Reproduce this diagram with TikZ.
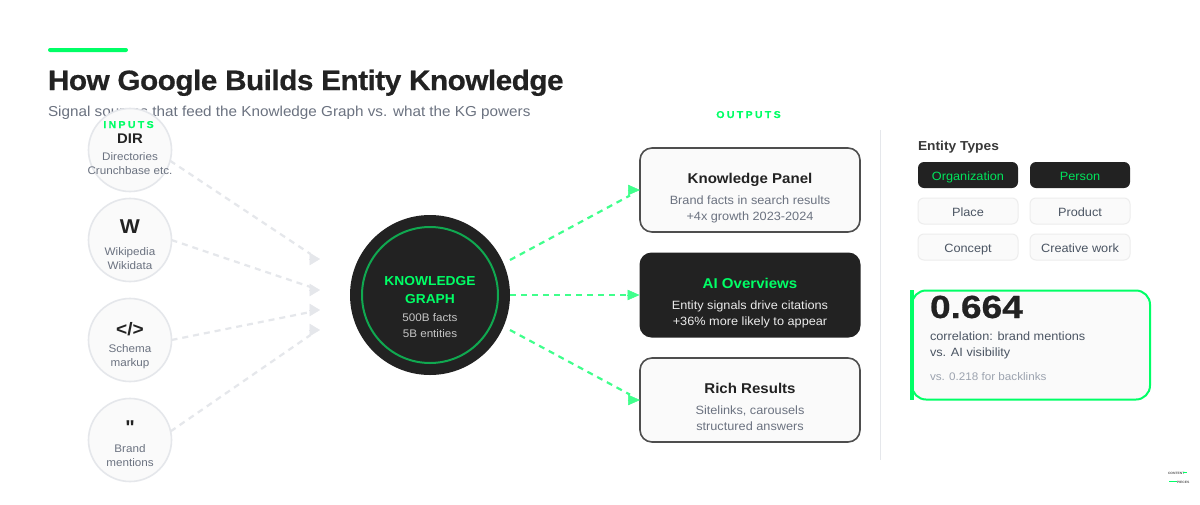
\documentclass[tikz,border=0pt]{standalone}
\usepackage{fontspec}
\setmainfont{Liberation Sans}[FakeStretch=1.06]
\newfontfamily\plainfam{Liberation Sans}
\newfontfamily\widefam{Liberation Sans}[FakeStretch=1.16]
\usetikzlibrary{arrows.meta}
\definecolor{ink}{HTML}{222222}
\definecolor{neon}{HTML}{00FF66}
\definecolor{neonsoft}{HTML}{40FF8C}
\definecolor{ringgreen}{HTML}{10A850}
\definecolor{hair}{HTML}{E5E7EB}
\definecolor{paper}{HTML}{FAFAFA}
\definecolor{muted}{HTML}{6B7280}
\definecolor{faint}{HTML}{9CA3AF}
\definecolor{slate}{HTML}{4B5563}
\newcommand{\sz}[1]{\fontsize{#1}{#1}\selectfont}
\tikzset{
  txt/.style={inner sep=0pt,outer sep=0pt,anchor=base},
  txtl/.style={inner sep=0pt,outer sep=0pt,anchor=base west},
  srccircle/.style={circle,draw=hair,line width=1.6pt,fill=paper,minimum size=83pt,inner sep=0pt,outer sep=0pt},
  outbox/.style={rectangle,rounded corners=12pt,draw=ink!80!white,line width=1.6pt,fill=paper,minimum width=220pt,minimum height=84pt,inner sep=0pt,outer sep=0pt},
  darkbox/.style={rectangle,rounded corners=12pt,fill=ink,minimum width=221pt,minimum height=85pt,inner sep=0pt,outer sep=0pt},
  pilld/.style={rectangle,rounded corners=6pt,fill=ink,minimum width=100pt,minimum height=26pt,inner sep=0pt,outer sep=0pt},
  pilll/.style={rectangle,rounded corners=6pt,draw=black!7,line width=1pt,fill=paper,minimum width=100pt,minimum height=26pt,inner sep=0pt,outer sep=0pt},
  inflow/.style={draw=hair,line width=2.2pt,dash pattern=on 6pt off 5pt},
  intip/.style={draw=hair,line width=0.5pt,-{Triangle[length=10.5pt,width=12.5pt,fill=hair]}},
  outflow/.style={draw=neonsoft,line width=2.2pt,dash pattern=on 6pt off 5pt},
  outtip/.style={draw=neonsoft,line width=0.5pt,-{Triangle[length=12pt,width=10.5pt,fill=neonsoft]}},
  head/.style={txt,font=\bfseries\sz{14},text=ink},
  small/.style={txt,font=\sz{11},text=muted},
  boxsub/.style={txt,font=\sz{12},text=muted},
  pilltxt/.style={txt,font=\sz{12},text=slate},
  pilltxtg/.style={txt,font=\sz{12},text=neon!90!black},
}
\begin{document}
\begin{tikzpicture}[x=1pt,y=-1pt]
\path[use as bounding box,fill=white] (0,0) rectangle (1200,504);
% header
\node[rectangle,fill=neon,rounded corners=2pt,minimum width=80pt,minimum height=4pt,inner sep=0pt,outer sep=0pt] (bar) at (88,50) {};
\node[txtl,font=\bfseries\sz{28}\addfontfeature{LetterSpace=-1.7,FakeBold=0.6},text=ink] (title) at (48,90) {How Google Builds Entity Knowledge};
\node[txtl,font=\sz{14.4},text=muted] (subtitle) at (48,116) {Signal sources that feed the Knowledge Graph vs. what the KG powers};
% sources
\node[srccircle] (dir) at (130,150) {};
\node[srccircle] (wik) at (130,240) {};
\node[srccircle] (sch) at (130,340) {};
\node[srccircle] (bra) at (130,440) {};
\node[txt,font=\bfseries\sz{10}\addfontfeature{LetterSpace=23,FakeBold=0.3},text=neon] (inputs) at (128.5,128) {INPUTS};
\node[head] (dirA) at (130,143) {DIR};
\node[small] (dirB) at (130,160) {Directories};
\node[small] (dirC) at (130,174) {Crunchbase etc.};
\node[head,font=\bfseries\sz{20}] (wikA) at (130,233) {W};
\node[small] (wikB) at (130,255) {Wikipedia};
\node[small] (wikC) at (130,269) {Wikidata};
\node[head,font=\bfseries\sz{18}] (schA) at (130,335) {</>};
\node[small] (schB) at (130,352) {Schema};
\node[small] (schC) at (130,366) {markup};
\node[head,font=\plainfam\bfseries\sz{20}] (braA) at (130,434) {"};
\node[small] (braB) at (130,452) {Brand};
\node[small] (braC) at (130,466) {mentions};
% hub
\node[circle,fill=ink,minimum size=160pt,inner sep=0pt,outer sep=0pt] (kg) at (430,295) {};
\node[circle,draw=ringgreen,line width=2pt,minimum size=136pt,inner sep=0pt,outer sep=0pt] (ring) at (430,295) {};
\node[txt,font=\bfseries\sz{13},text=neon] (kgA) at (430,285) {KNOWLEDGE};
\node[txt,font=\bfseries\sz{13},text=neon] (kgB) at (430,303) {GRAPH};
\node[txt,font=\sz{11},text=black!22] (kgC) at (430,321) {500B facts};
\node[txt,font=\sz{11},text=black!22] (kgD) at (430,337) {5B entities};
% outputs
\node[txt,font=\bfseries\sz{10}\addfontfeature{LetterSpace=23,FakeBold=0.3},text=neon] (outputs) at (748.5,118) {OUTPUTS};
\node[outbox] (kp) at (750,190) {};
\node[darkbox] (ai) at (750,295) {};
\node[outbox] (rr) at (750,400) {};
\node[txt,font=\bfseries\sz{14.2},text=ink] (kpA) at (750,183) {Knowledge Panel};
\node[boxsub] (kpB) at (750,204) {Brand facts in search results};
\node[boxsub] (kpC) at (750,220) {+4x growth 2023-2024};
\node[txt,font=\bfseries\sz{14.2},text=neon] (aiA) at (750,288) {AI Overviews};
\node[boxsub,text=black!8] (aiB) at (750,309) {Entity signals drive citations};
\node[boxsub,text=black!8] (aiC) at (750,325) {+36\% more likely to appear};
\node[txt,font=\bfseries\sz{14.2},text=ink] (rrA) at (750,393) {Rich Results};
\node[boxsub] (rrB) at (750,414) {Sitelinks, carousels};
\node[boxsub] (rrC) at (750,430) {structured answers};
% connectors in
\coordinate (t1) at (310.5,254);
\coordinate (t2) at (310.5,287);
\coordinate (t3) at (310.5,312);
\coordinate (t4) at (310.5,335);
\coordinate (h1) at (320,259);
\coordinate (h2) at (320,290);
\coordinate (h3) at (320,310);
\coordinate (h4) at (320,330);
\draw[inflow] (dir.-15) -- (t1);
\draw[inflow] (wik.east) -- (t2);
\draw[inflow] (sch.east) -- (t3);
\draw[inflow] (bra.12) -- (t4);
\draw[intip] ([xshift=-11pt]h1) -- (h1);
\draw[intip] ([xshift=-11pt]h2) -- (h2);
\draw[intip] ([xshift=-11pt]h3) -- (h3);
\draw[intip] ([xshift=-11pt]h4) -- (h4);
% connectors out
\coordinate (e1) at (630,195.5);
\coordinate (e3) at (630,394.6);
\draw[outflow] ([yshift=35pt]kg.east) -- (e1);
\draw[outflow] (kg.east) -- ([xshift=-11pt]ai.west);
\draw[outflow] ([yshift=-35pt]kg.east) -- (e3);
\draw[outtip] ([xshift=-12.5pt]kp.west) -- (kp.west);
\draw[outtip] ([xshift=-12.5pt]ai.west) -- (ai.west);
\draw[outtip] ([xshift=-12.5pt]rr.west) -- (rr.west);
% divider
\coordinate (divT) at (880.5,130);
\coordinate (divB) at (880.5,460);
\draw[hair,line width=1.6pt] (divT) -- (divB);
% entity types
\node[txtl,font=\bfseries\sz{13},text=ink!90!white] (etypes) at (918,150) {Entity Types};
\node[pilld] (p1) at (968,175) {};
\node[pilld] (p2) at (1080,175) {};
\node[pilll] (p3) at (968,211) {};
\node[pilll] (p4) at (1080,211) {};
\node[pilll] (p5) at (968,247) {};
\node[pilll] (p6) at (1080,247) {};
\node[pilltxtg] (p1t) at (968,180) {Organization};
\node[pilltxtg] (p2t) at (1080,180) {Person};
\node[pilltxt] (p3t) at (968,216) {Place};
\node[pilltxt] (p4t) at (1080,216) {Product};
\node[pilltxt] (p5t) at (968,252) {Concept};
\node[pilltxt] (p6t) at (1080,252) {Creative work};
% stat card
\node[rectangle,rounded corners=14pt,draw=neon,line width=2pt,fill=paper,minimum width=238pt,minimum height=109pt,inner sep=0pt,outer sep=0pt] (stat) at (1031,345) {};
\node[rectangle,fill=neon,minimum width=3.5pt,minimum height=110pt,inner sep=0pt,outer sep=0pt] (statbar) at (911.8,345) {};
\node[txtl,font=\widefam\bfseries\sz{32}\addfontfeature{FakeBold=0.6},text=ink] (statA) at (930,318) {0.664};
\node[txtl,font=\sz{12},text=slate] (statB) at (930,340) {correlation: brand mentions};
\node[txtl,font=\sz{12},text=slate] (statC) at (930,356) {vs. AI visibility};
\node[txtl,font=\sz{11},text=faint] (statD) at (930,380) {vs. 0.218 for backlinks};
% logo
\node[txtl,font=\bfseries\sz{3.2},text=black!65] (logoA) at (1168,474) {CONTENT};
\node[txtl,font=\bfseries\sz{3.2},text=black!65] (logoB) at (1177,483) {PIECES};
\coordinate (la) at (1183,472.5);
\coordinate (lb) at (1187,472.5);
\coordinate (lc) at (1169,481.5);
\coordinate (ld) at (1177,481.5);
\draw[neon,line width=0.8pt] (la) -- (lb);
\draw[neon,line width=0.8pt] (lc) -- (ld);
\end{tikzpicture}
\end{document}
